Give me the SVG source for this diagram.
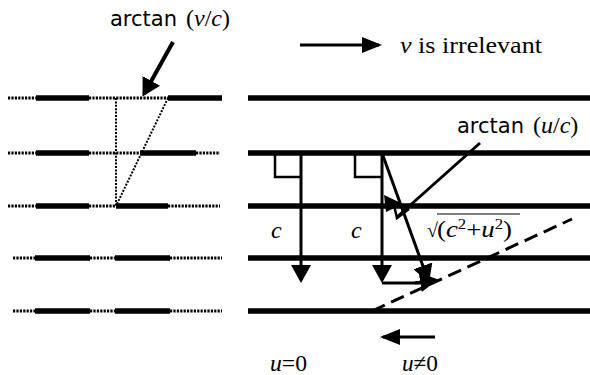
<svg xmlns="http://www.w3.org/2000/svg" width="590" height="375" viewBox="0 0 590 375">
<style>
.thick{stroke:#000;stroke-width:5.5;fill:none}
.dots{stroke:#000;stroke-width:2.8;stroke-dasharray:2.2 1.2;fill:none}
.fdots{stroke:#000;stroke-width:2;stroke-dasharray:2 1.4;fill:none}
.arr{stroke:#000;stroke-width:3;fill:none}
.thin{stroke:#000;stroke-width:2.5;fill:none}
.sans{font-family:"DejaVu Sans","Liberation Sans",sans-serif;font-size:21px;fill:#000}
.serif{font-family:"Liberation Serif","Times New Roman",serif;font-size:24px;fill:#000}
.it{font-style:italic}
</style>
<defs>
<marker id="ah" viewBox="0 0 18 20" refX="15" refY="10" markerWidth="18" markerHeight="20" markerUnits="userSpaceOnUse" orient="auto">
<path d="M0,0 L18,10 L0,20 z" fill="#000"/>
</marker>
<marker id="ahs" viewBox="0 0 20 16" refX="17" refY="8" markerWidth="20" markerHeight="16" markerUnits="userSpaceOnUse" orient="auto">
<path d="M0,0 L20,8 L0,16 z" fill="#000"/>
</marker>
</defs>

<g id="left-rows">
<g id="row1"><path class="dots" d="M8,98 H36 M89,98 H168"/><path class="thick" d="M36,98 H89 M168,98 H222"/></g>
<g id="row2"><path class="dots" d="M8,153 H36 M89,153 H140 M196,153 H220"/><path class="thick" d="M36,153 H89 M140,153 H196"/></g>
<g id="row3"><path class="dots" d="M8,206 H36 M89,206 H116 M168,206 H220"/><path class="thick" d="M36,206 H89 M116,206 H168"/></g>
<g id="row4"><path class="dots" d="M13,258 H35 M90,258 H115 M170,258 H222"/><path class="thick" d="M35,258 H90 M115,258 H170"/></g>
<g id="row5"><path class="dots" d="M13,311 H35 M90,311 H115 M170,311 H222"/><path class="thick" d="M35,311 H90 M115,311 H170"/></g>
<g id="left-triangle"><path class="fdots" d="M116,98 V206 M168,98 L116,206"/></g>
</g>

<g id="right-rows">
<path class="thick" d="M248,98 H590 M248,153 H590 M248,206 H590 M248,258 H590 M248,311 H590"/>
</g>

<g id="connectors">
<line class="arr" x1="173" y1="42" x2="144" y2="94" marker-end="url(#ah)" style="stroke-width:4"/>
<line class="arr" x1="300" y1="45" x2="379" y2="45" marker-end="url(#ahs)"/>
<line class="arr" x1="301" y1="153" x2="301" y2="280" marker-end="url(#ah)"/>
<line class="arr" x1="382" y1="153" x2="382" y2="280" marker-end="url(#ah)"/>
<line class="arr" x1="382" y1="153" x2="428" y2="280" marker-end="url(#ah)"/>
<polyline class="arr" points="382,283 420,283"/>
<line class="arr" x1="415" y1="283" x2="435" y2="280" marker-end="url(#ah)"/>
<line class="arr" x1="435" y1="337" x2="383" y2="337" marker-end="url(#ahs)"/>
<line class="thin" x1="480" y1="143" x2="397" y2="217" style="stroke-width:3"/>
<polygon points="384,195 403,204 386,212" fill="#000"/>
<polyline class="thin" points="394,205 397,218 409,209"/>
<line class="arr" x1="372" y1="311" x2="572" y2="219" style="stroke-dasharray:14 7"/>
<polyline class="thin" points="275,153 275,177 301,177"/>
<polyline class="thin" points="355,153 355,177 382,177"/>
</g>

<g id="labels">
<text x="110" y="26"><tspan class="sans">arctan</tspan><tspan class="serif" x="186">(<tspan class="it">v</tspan>/<tspan class="it">c</tspan>)</tspan></text>
<text class="serif" x="400" y="53" textLength="142" lengthAdjust="spacingAndGlyphs"><tspan class="it">v</tspan> is irrelevant</text>
<text x="457" y="133"><tspan class="sans">arctan</tspan><tspan class="serif" x="533">(<tspan class="it">u</tspan>/<tspan class="it">c</tspan>)</tspan></text>
<text class="serif it" x="271" y="238">c</text>
<text class="serif it" x="351" y="238">c</text>
<text class="serif" x="427" y="237" style="font-size:20px">√</text>
<line x1="437" y1="214" x2="520" y2="214" stroke="#000" stroke-width="1.2"/>
<text class="serif" x="437" y="237" textLength="75" lengthAdjust="spacingAndGlyphs">(<tspan class="it">c</tspan><tspan style="font-size:15px" dy="-8">2</tspan><tspan dy="8">+</tspan><tspan class="it">u</tspan><tspan style="font-size:15px" dy="-8">2</tspan><tspan dy="8">)</tspan></text>
<text class="serif" x="270" y="371" textLength="37" lengthAdjust="spacingAndGlyphs"><tspan class="it">u</tspan>=0</text>
<text class="serif" x="402" y="371" textLength="36" lengthAdjust="spacingAndGlyphs"><tspan class="it">u</tspan>≠0</text>
</g>
</svg>
